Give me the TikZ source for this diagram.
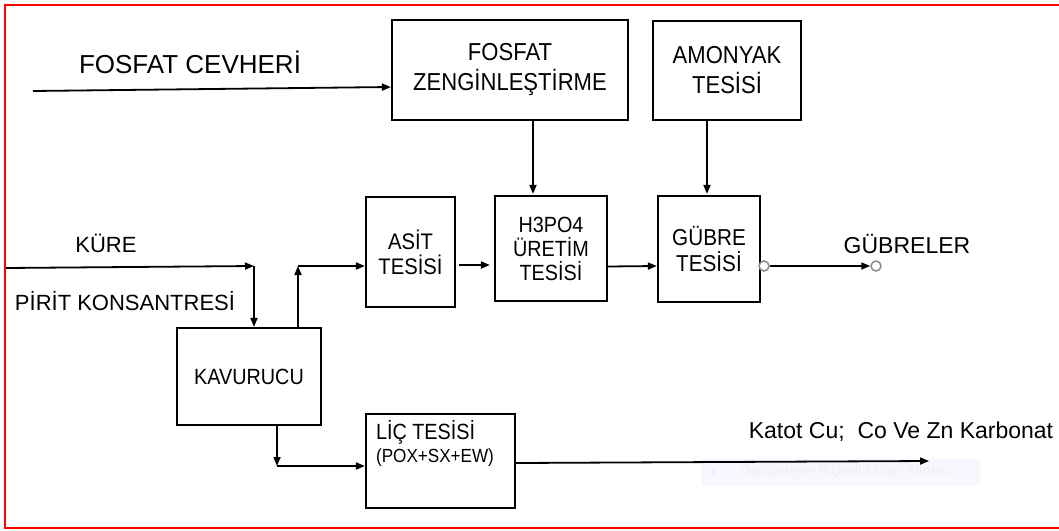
\documentclass[tikz,border=0pt]{standalone}
\usepackage{fontspec}
\setmainfont{Liberation Sans}
\newfontfamily\narrowfont[FakeStretch=0.9]{Liberation Sans}
\newfontfamily\notefont{Noto Sans}
\usetikzlibrary{arrows.meta,calc}
\def\fs#1#2{\fontsize{#1}{#2}\selectfont}

\begin{document}
\begin{tikzpicture}[x=1pt,y=-1pt,
	box/.style={draw,line width=2.2pt,inner sep=0pt,align=center,font=\narrowfont\fs{22}{26}},
	arr/.style={line width=1.8pt,-{Triangle[length=9pt,width=7pt]}},
	pin/.style={circle,draw=black!45,line width=1.5pt,fill=white,minimum size=10pt,inner sep=0pt}]
	\useasboundingbox (0,0) rectangle (1059,530);
	\draw[red,line width=2pt] (1059,4.5)--(5,4.5)--(5,527.5)--(1059,527.5);
	\node[box,minimum width=236pt,minimum height=100pt,font=\narrowfont\fs{24.5}{30}] (fz) at (510,70) {FOSFAT\\ZENG\.{I}NLE\c{S}T\.{I}RME};
	\node[box,minimum width=148pt,minimum height=99pt,font=\narrowfont\fs{24.5}{30}] (amo) at (727,70.5) {AMONYAK\\TES\.{I}S\.{I}};
	\node[box,minimum width=89pt,minimum height=110pt,font=\narrowfont\fs{22.5}{25}] (asit) at (410.5,252) {AS\.{I}T\\TES\.{I}S\.{I}};
	\node[box,minimum width=112pt,minimum height=105pt,font=\narrowfont\fs{22}{24}] (h3) at (551,248.5) {H3PO4\\\"URET\.{I}M\\TES\.{I}S\.{I}};
	\node[box,minimum width=102pt,minimum height=106pt,font=\narrowfont\fs{23}{26}] (gub) at (709,249) {G\"UBRE\\TES\.{I}S\.{I}};
	\node[box,minimum width=144pt,minimum height=97pt,font=\narrowfont\fs{22}{24}] (kav) at (249,376.5) {KAVURUCU};
	\node[box,minimum width=149pt,minimum height=94pt] (lic) at (440.5,461) {};
	\node[anchor=north west,align=left,inner sep=0pt] (lictxt) at ([xshift=11pt,yshift=-7pt]lic.north west) {\narrowfont\fs{22}{22}L\.{I}\c{C} TES\.{I}S\.{I}\\[4pt]\narrowfont\fs{19}{20}(POX+SX+EW)};
	\node[font=\fs{26}{30}] (fc) at (190,62) {FOSFAT CEVHER\.{I}};
	\node[font=\fs{22}{26}] (kure) at (106,243) {K\"URE};
	\node[font=\fs{22}{26}] (pirit) at (125,301) {P\.{I}R\.{I}T KONSANTRES\.{I}};
	\node[font=\fs{23}{28}] (gubler) at (907,244) {G\"UBRELER};
	\node[font=\fs{23}{28}] (katot) at (901,432) {Katot Cu;\ \ Co Ve Zn Karbonat};
	\fill[blue!3] (701,459) rectangle (980,486);
	\fill[blue!6] (714,472) circle (3pt);
	\node[text=black!6,font=\notefont\fs{14}{16},anchor=west] (ekran) at (737,472) {Dikdörtgen Biçimli Ekran Alıntısı};
	\coordinate (fcin) at (33,91);
	\coordinate (kin) at (6,268);
	\coordinate (kj) at (254,266);
	\coordinate (aj) at (298,266);
	\coordinate (lj) at (277,466);
	\coordinate (lout) at (929,461);
	\node[pin] (c1) at (764,266) {};
	\node[pin] (c2) at (876,266) {};
	\draw[arr] (fcin)--([yshift=-17pt]fz.west);
	\draw[arr] ([xshift=23pt]fz.south)--([xshift=-18pt,yshift=1pt]h3.north);
	\draw[arr] ([xshift=-20pt]amo.south)--([xshift=-2pt,yshift=1pt]gub.north);
	\draw[arr] (kin)--(kj);
	\draw[arr] (kj)--(kav.north -| kj);
	\draw[arr] (kav.north -| aj)--(aj);
	\draw[arr] (aj)--(asit.west |- aj);
	\draw[arr] ([xshift=3pt,yshift=-13pt]asit.east)--([xshift=-4pt,yshift=-16.5pt]h3.west);
	\draw[arr] ([yshift=-18pt]h3.east)--([yshift=-17pt]gub.west);
	\draw[arr] (c1)--(c2);
	\draw[arr] (kav.south -| lj)--(lj);
	\draw[arr] (lj)--(lic.west |- lj);
	\draw[arr] ([yshift=-2pt]lic.east)--(lout);
\end{tikzpicture}
\end{document}
